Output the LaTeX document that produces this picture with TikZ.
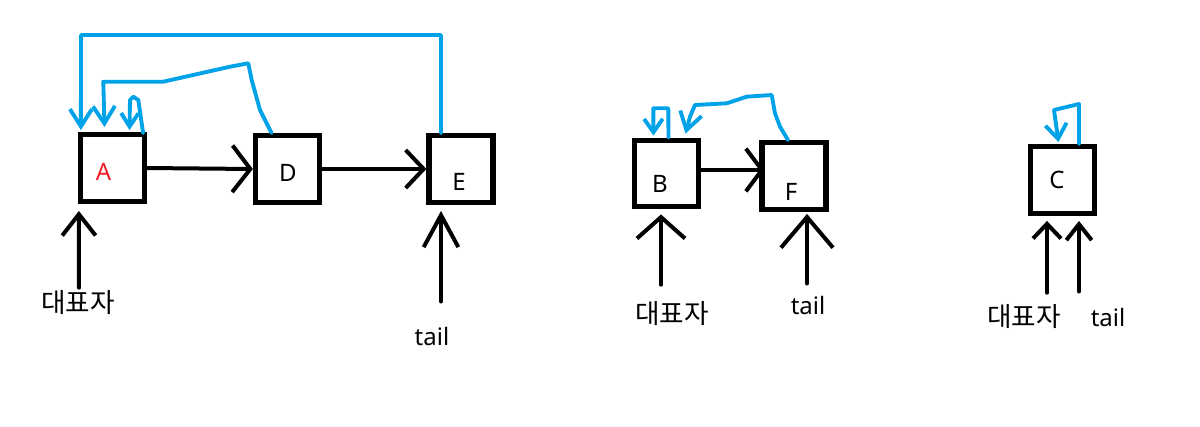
\documentclass[tikz,border=0pt]{standalone}
\usepackage{fontspec}
\setmainfont{Noto Sans}
\newfontfamily\krfont{Noto Sans CJK KR}
\usetikzlibrary{arrows.meta,calc}
\definecolor{pblue}{HTML}{00A2E8}
\definecolor{pred}{HTML}{ED1C24}
\begin{document}
\begin{tikzpicture}[x=0.75pt,y=-0.75pt,
  box/.style={draw,line width=3.9pt,minimum width=48pt,minimum height=50pt,inner sep=0pt},
  lbl/.style={font=\fontsize{18pt}{20pt}\selectfont,inner sep=0pt},
  kor/.style={font=\krfont\fontsize{20pt}{22pt}\selectfont,inner sep=0pt},
  blk/.style={line width=3pt,line cap=round,line join=round},
  blu/.style={draw=pblue,line width=2.9pt,line cap=round,line join=round,-{Straight Barb[length=13pt,width=16.5pt,line width=2.9pt]}},
]
\useasboundingbox (0,0) rectangle (1200,426);
\fill[white] (0,0) rectangle (1200,426);

% boxes
\node[box] (A) at (112.5,168) {};
\node[box] (D) at (287.5,169) {};
\node[box] (E) at (461,169) {};
\node[box] (B) at (666.5,173.5) {};
\node[box] (F) at (794,176) {};
\node[box] (C) at (1062.5,180) {};

% box texts
\node[lbl,text=pred] (tA) at (103.5,172) {A};
\node[lbl] (tD) at (288,173) {D};
\node[lbl] (tE) at (459,182) {E};
\node[lbl] (tB) at (660,183.5) {B};
\node[lbl] (tF) at (791,191.5) {F};
\node[lbl] (tC) at (1057,180) {C};

% bottom labels
\node[kor] (kA) at (78,303) {대표자};
\node[lbl] (tlE) at (432,336) {tail};
\node[kor] (kB) at (672,314) {대표자};
\node[lbl] (tlF) at (808,305) {tail};
\node[kor] (kC) at (1024,317) {대표자};
\node[lbl] (tlC) at (1108,317) {tail};

% black horizontal arrows
\draw[blk,-{Straight Barb[length=13.5pt,width=35pt,line width=3pt]}] (A.east) -- (D.west);
\draw[blk,-{Straight Barb[length=13.5pt,width=28.5pt,line width=3pt]}] (D.east) -- (E.west);
\draw[blk,-{Straight Barb[length=12pt,width=32pt,line width=3pt]}] ($(B.east)+(0,-3.5)$) -- ($(F.west)+(5,-6)$);

% black vertical arrows
\draw[blk,-{Straight Barb[length=16pt,width=25pt,line width=3pt]}] ($(kA.north)+(1,-3)$) -- ($(A.south west)+(1,7)$);
\draw[blk,-{Straight Barb[length=24pt,width=26pt,line width=3pt]}] ($(tlE.north)+(9,-25)$) -- ($(E.south)+(-20,6)$);
\draw[blk,-{Straight Barb[length=16pt,width=36pt,line width=3pt]}] ($(kB.north)+(-11,-17)$) -- ($(B.south)+(-5.5,5)$);
\draw[blk,-{Straight Barb[length=23pt,width=39pt,line width=3pt]}] ($(tlF.north)+(-1,-12)$) -- ($(F.south)+(13,2)$);
\draw[blk,-{Straight Barb[length=11pt,width=21pt,line width=3pt]}] ($(kC.north)+(23,-12)$) -- ($(C.south)+(-15.5,5)$);
\draw[blk,-{Straight Barb[length=12pt,width=19pt,line width=3pt]}] ($(tlC.north)+(-29,-16)$) -- ($(C.south)+(16.5,5)$);

% blue connectors
\draw[blu] ($(E.north)+(-20,0)$) -- (441,35) -- (81,35) -- ($(A.north west)+(3,-2)$);
\draw[blu] ($(D.north)+(-16,0)$) -- (260,110) -- (251.7,80) -- (248.3,63.3) -- (230,66.7) -- (163.3,81.7) -- (103.3,81.7) -- ($(A.north)+(-8,-5)$);
\draw[blu,-{Straight Barb[length=10pt,width=13pt,line width=2.9pt]}] ($(A.north east)+(-4,1)$) -- (138.3,100) -- (133.3,96.7) -- (130,100) -- ($(A.north)+(17,-2)$);
\draw[blu,-{Straight Barb[length=10pt,width=14pt,line width=2.9pt]}] ($(B.north)+(2,0)$) -- (668.3,108.3) -- (653.3,108.3) -- ($(B.north)+(-13,-2)$);
\draw[blu] ($(F.north)+(-6,0)$) -- (780,126.7) -- (775,113.3) -- (771.7,95) -- (746.7,96.7) -- (726.7,103.3) -- (695,105) -- (690,116.7) -- ($(B.north)+(19,-4)$);
\draw[blu,-{Straight Barb[length=11pt,width=16pt,line width=2.9pt]}] ($(C.north)+(16.5,0)$) -- (1079,104) -- (1054,110) -- ($(C.north)+(-4,-2)$);
\end{tikzpicture}
\end{document}
